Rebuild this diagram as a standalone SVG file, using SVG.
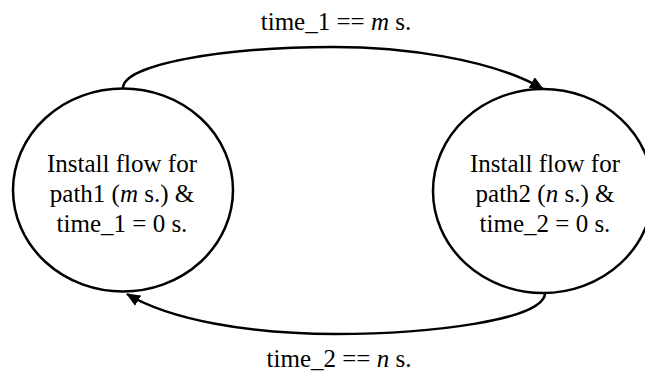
<svg xmlns="http://www.w3.org/2000/svg" width="645" height="372" viewBox="0 0 645 372">
<style>
text{font-family:"Liberation Serif","Times New Roman",serif;font-size:25px;fill:#000;text-anchor:middle}
.i{font-style:italic}
.st{fill:#fff;stroke:#000;stroke-width:2.5}
.cn{fill:none;stroke:#000;stroke-width:2.5}
</style>
<defs>
<marker id="ah" markerUnits="userSpaceOnUse" markerWidth="14" markerHeight="12" refX="13" refY="6" orient="auto">
<path d="M0,0 L14,6 L0,12 z" fill="#000"/>
</marker>
</defs>
<g id="connectors">
<path class="cn" d="M123,88 C123,65 220,47 333,47 C400,47 490,58 543,89" marker-end="url(#ah)"/>
<path class="cn" d="M545,293 C545,320 430,334 335,334 C250,334 170,320 127,294" marker-end="url(#ah)"/>
<text x="336" y="30">time_1 == <tspan class="i">m</tspan> s.</text>
<text x="339" y="367">time_2 == <tspan class="i">n</tspan> s.</text>
</g>
<g id="state1">
<ellipse class="st" cx="123" cy="190" rx="110" ry="101.5"/>
<text x="122" y="172">Install flow for</text>
<text x="122" y="202">path1 (<tspan class="i">m</tspan> s.) &amp;</text>
<text x="122" y="232">time_1 = 0 s.</text>
</g>
<g id="state2">
<ellipse class="st" cx="543" cy="191" rx="110" ry="102"/>
<text x="545" y="172">Install flow for</text>
<text x="545" y="202">path2 (<tspan class="i">n</tspan> s.) &amp;</text>
<text x="545" y="232">time_2 = 0 s.</text>
</g>
</svg>
